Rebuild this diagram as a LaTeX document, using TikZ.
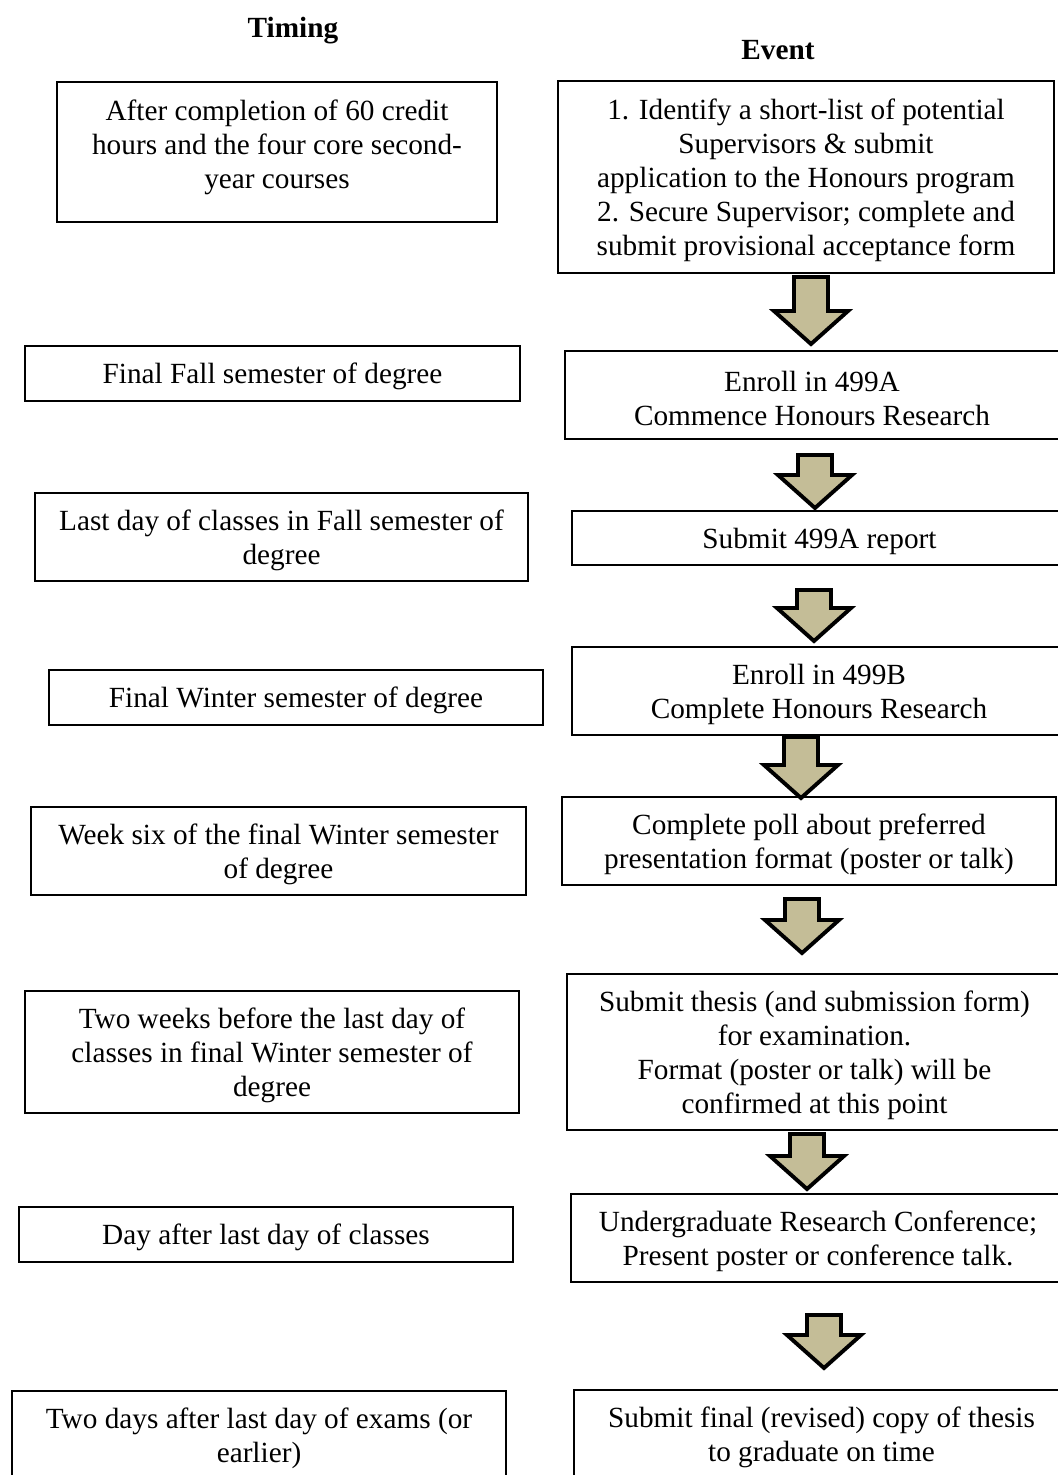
\documentclass[tikz,border=0pt]{standalone}
\usepackage{fontspec}
\setmainfont{Liberation Serif}
\usetikzlibrary{positioning}
\definecolor{arrowtan}{RGB}{196,189,151}
\newlength\pxu
\setlength\pxu{0.41pt}
\newcommand\topstrut{\rule{0pt}{11pt}}
\tikzset{
	timebox/.style={draw, line width=0.8pt, align=center, inner sep=0pt, font=\fontsize{12}{13.94}\selectfont},
	eventbox/.style={timebox},
	header/.style={font=\fontsize{12}{13.94}\selectfont\bfseries},
	blockarrow/.style={draw=black, fill=arrowtan, line width=1.6pt, line join=miter}
}
\begin{document}
\begin{tikzpicture}[x=\pxu, y=-\pxu]
		\useasboundingbox (0,0) rectangle (1058,1475);
		\clip (0,0) rectangle (1058,1475);
		\node[header] (timinghead) at (293,31) {Timing};
		\node[header] (eventhead) at (778,50) {Event};

		% timing column
		\node[timebox, minimum width=440\pxu, minimum height=140\pxu] (tim1) at (277,152) {\topstrut After completion of 60 credit\\hours and the four core second-\\year courses\rule[-9.2pt]{0pt}{9.2pt}};
		\node[timebox, minimum width=495\pxu, minimum height=55\pxu] (tim2) at (272.5,373.5) {\topstrut Final Fall semester of degree};
		\node[timebox, minimum width=493\pxu, minimum height=88\pxu] (tim3) at (281.5,537) {\topstrut Last day of classes in Fall semester of\\degree};
		\node[timebox, minimum width=494\pxu, minimum height=55\pxu] (tim4) at (296,697.5) {\topstrut Final Winter semester of degree};
		\node[timebox, minimum width=495\pxu, minimum height=88\pxu] (tim5) at (278.5,851) {\topstrut Week six of the final Winter semester\\of degree};
		\node[timebox, minimum width=494\pxu, minimum height=122\pxu] (tim6) at (272,1052) {\topstrut Two weeks before the last day of\\classes in final Winter semester of\\degree};
		\node[timebox, minimum width=494\pxu, minimum height=55\pxu] (tim7) at (266,1234.5) {\topstrut Day after last day of classes};
		\node[timebox, minimum width=494\pxu, minimum height=88\pxu] (tim8) at (259,1435) {\topstrut Two days after last day of exams (or\\earlier)};

		% event column
		\node[eventbox, minimum width=496\pxu, minimum height=192\pxu] (ev1) at (806,177) {\topstrut 1. Identify a short-list of potential\\Supervisors \& submit\\application to the Honours program\\2. Secure Supervisor; complete and\\submit provisional acceptance form};
		\node[eventbox, minimum width=494\pxu, minimum height=88\pxu] (ev2) at (812,395) {\topstrut Enroll in 499A\\Commence Honours Research};
		\node[eventbox, minimum width=495\pxu, minimum height=54\pxu] (ev3) at (819.5,538) {\topstrut Submit 499A report};
		\node[eventbox, minimum width=494\pxu, minimum height=88\pxu] (ev4) at (819,691) {\topstrut Enroll in 499B\\Complete Honours Research};
		\node[eventbox, minimum width=494\pxu, minimum height=88\pxu] (ev5) at (809,841) {\topstrut Complete poll about preferred\\presentation format (poster or talk)};
		\node[eventbox, minimum width=495\pxu, minimum height=156\pxu] (ev6) at (814.5,1052) {\topstrut Submit thesis (and submission form)\\for examination.\\Format (poster or talk) will be\\confirmed at this point};
		\node[eventbox, minimum width=494\pxu, minimum height=88\pxu] (ev7) at (818,1238) {\topstrut Undergraduate Research Conference;\\Present poster or conference talk.};
		\node[eventbox, minimum width=495\pxu, minimum height=88\pxu] (ev8) at (821.5,1434) {\topstrut Submit final (revised) copy of thesis\\to graduate on time};

		\foreach \cx/\ty/\by in {811/277/344, 815/455/508, 814/590/641, 801/737/798, 802/899/953, 807/1134/1189, 824/1315/1368}
			\draw[blockarrow] ({\cx-17},\ty) -- ({\cx+17},\ty) -- ({\cx+17},{\by-33}) -- ({\cx+37},{\by-33})
				-- (\cx,\by) -- ({\cx-37},{\by-33}) -- ({\cx-17},{\by-33}) -- cycle;
	\end{tikzpicture}
\end{document}
